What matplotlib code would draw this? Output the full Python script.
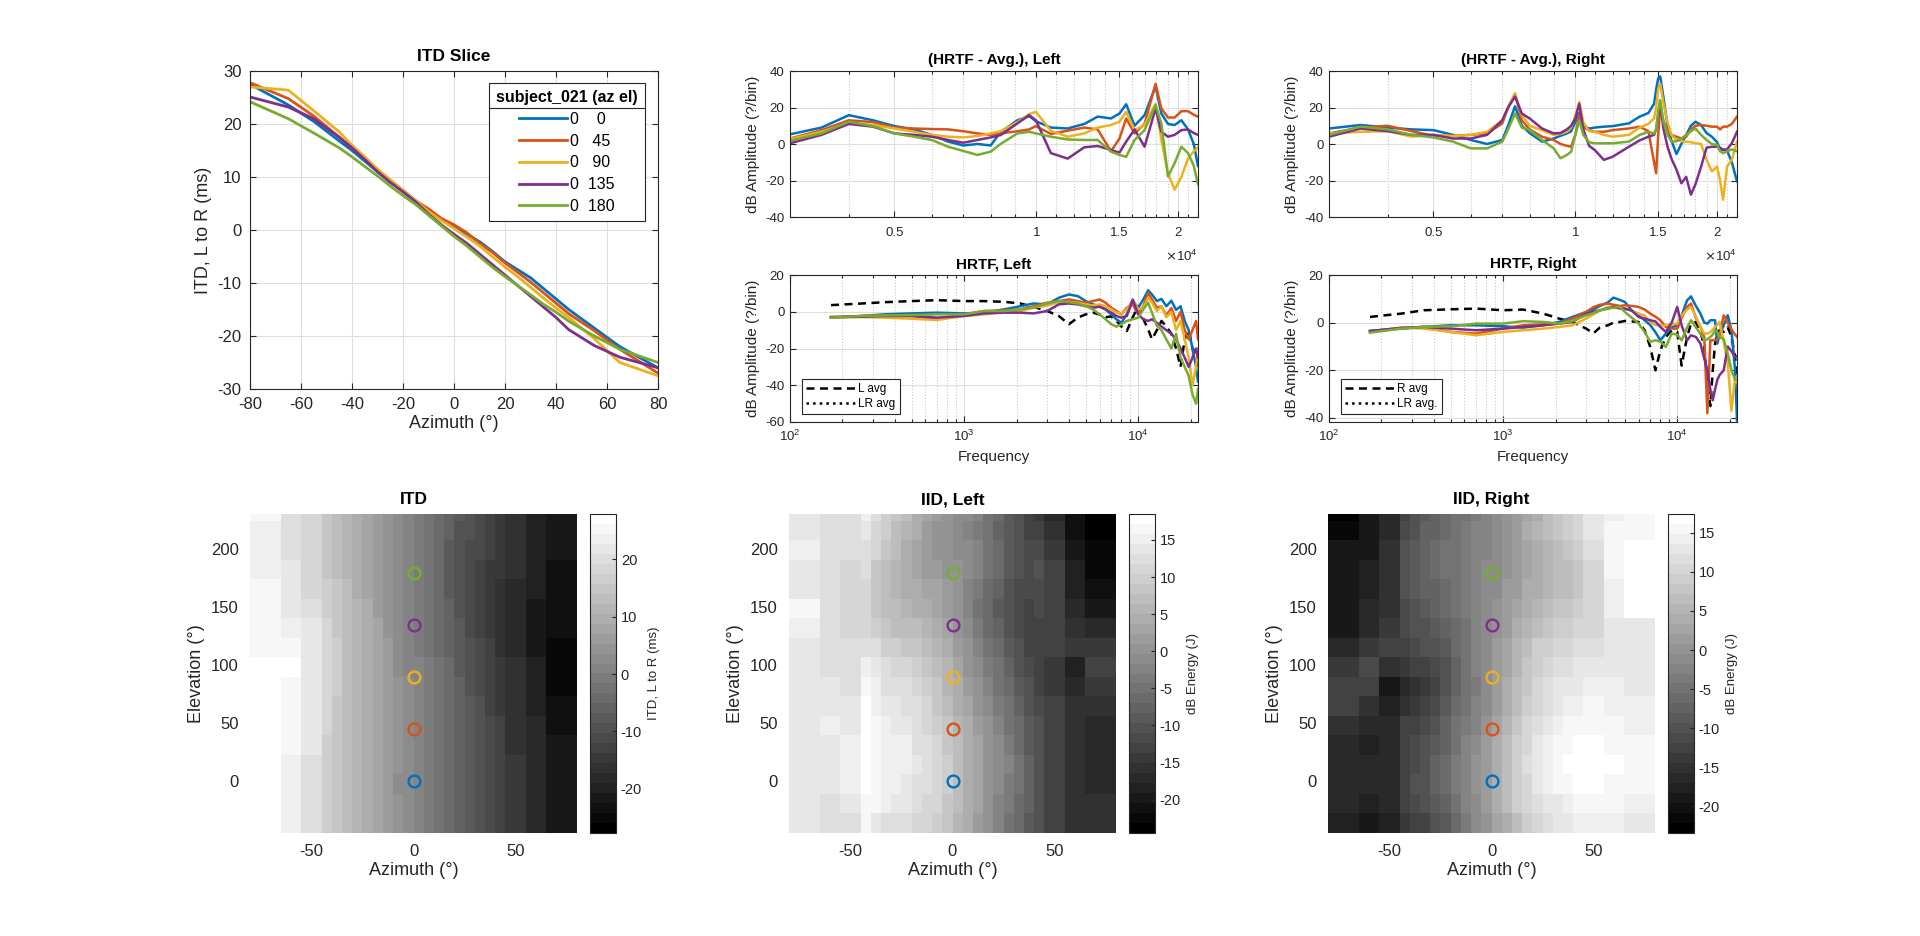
import numpy as np
import matplotlib
matplotlib.use("Agg")
import matplotlib.pyplot as plt
from matplotlib.colors import ListedColormap
from matplotlib.lines import Line2D
from matplotlib.ticker import FixedLocator, FixedFormatter, NullFormatter

plt.rcParams['font.family'] = ['Liberation Sans', 'DejaVu Sans']
plt.rcParams['axes.unicode_minus'] = False

# ---------------- data ----------------
elevations = [0, 45, 90, 135, 180]
legend_labels = ['0    0', '0   45', '0   90', '0  135', '0  180']

# ITD slice (azimuth vs ITD), one list per elevation
azimuths = [-80, -65, -55, -45, -40, -35, -30, -25, -20, -15, -10, -5, 0,
            5, 10, 15, 20, 25, 30, 35, 40, 45, 55, 65, 80]
itd_el0 = [27.5, 23.6, 20.5, 16.8, 15, 13, 11, 9, 7.5, 5.5, 3.5, 2, 0.8,
           -0.8, -2.2, -4, -6, -7.5, -9, -11, -13, -15, -18.5, -22, -26]
itd_el45 = [27.8, 24.8, 21.5, 17.5, 15.5, 13.5, 11.2, 9.2, 7.3, 5.5, 4, 2.2, 1.0,
            -0.5, -2.5, -4.2, -6.2, -8, -9.8, -11.8, -13.8, -15.8, -19, -22.5, -27]
itd_el90 = [27, 26.4, 22.5, 18.5, 16, 13.8, 11.5, 9.5, 7.5, 5.5, 3.5, 1.8, 0.3,
            -1.3, -3, -5, -7, -8.8, -10.8, -12.8, -14.7, -16.5, -20.5, -25, -27.5]
itd_el135 = [25.1, 23.2, 21, 17.5, 15.5, 13.3, 11, 9, 7.2, 5.3, 3, 1, -0.8,
             -2.5, -4.5, -6.5, -8.5, -10.5, -12.5, -14.5, -16.5, -18.8, -21.8, -24, -26]
itd_el180 = [24.2, 21, 18.3, 15.5, 13.8, 12, 10.2, 8.3, 6.5, 4.8, 2.8, 0.8, -1.2,
             -3, -5, -7, -8.8, -10.5, -12.2, -14, -15.5, -17.2, -20, -22.5, -25]

# (HRTF - Avg.), Left
freq_avg_left = [3000, 3500, 4000, 4500, 5000, 5500, 6000, 6500, 7000, 7500, 8000, 8400,
                 9120, 9660, 9980, 10740, 11660, 12650, 13500, 14410, 15020, 15520, 16170,
                 16980, 17920, 18430, 19040, 19670, 20330, 21000, 21600, 22050]
avgL_el0 = [5.3, 9, 15.8, 13, 9.8, 8, 5, 1.3, -0.8, 0, -0.8, 6.5, 13, 15.3, 12.5, 9,
            8.5, 11, 15, 14, 16.7, 21.8, 10, 15.8, 31.6, 16.7, 11, 10.4, 13, 8, 0, -12]
avgL_el45 = [3, 7.6, 13, 12, 9, 8.5, 8.2, 8, 7, 5.8, 5, 5.8, 7, 8, 9.8, 5.5, 7.3, 9,
             8, -4, 3, 14, 5.8, 11, 33, 19.5, 14.5, 14.5, 18, 18, 16, 15]
avgL_el90 = [2.7, 6.7, 11.6, 10.4, 8.5, 6.7, 5, 4, 3.6, 4.4, 5.8, 7, 12, 16.4, 17.6,
             7.3, 4, 5.8, 9, 10.4, 12.2, 17.6, 7.6, 10.4, 22, 2.2, -16, -25, -18, -8, -4, -2]
avgL_el135 = [0.4, 5, 11, 9.5, 5.8, 5, 4, 2.2, 0.7, 2.2, 3.6, 4.9, 11.3, 15.8, 13, -5,
              -8, -1.8, -1.1, -3.3, -4.7, 1.3, 8, -1.5, 19.5, 6.7, 4, 5, 7.6, 8, 6, 5]
avgL_el180 = [1.8, 5.8, 12.2, 9.8, 5.8, 4, 2.2, -1.5, -3.8, -6, -4.2, 0, 5.8, 6.7, 5.8,
              4, 2.5, 2.2, 2.2, -4.2, -6, -7, 2.2, 7.6, 21.3, 11.3, -17.8, -10.5, -1.5, -5, -12, -22]

# (HRTF - Avg.), Right
freq_avg_right = [3000, 3500, 4000, 4500, 5000, 5500, 6000, 6500, 7000, 7200, 7450, 7700,
                  8000, 8500, 9000, 9300, 9600, 9800, 10000, 10200, 10400, 10700, 11000,
                  11500, 12000, 13000, 13700, 14300, 14700, 14850, 15000, 15150, 15400,
                  15700, 16000, 16400, 16800, 17200, 17600, 18000, 18500, 19000, 19500,
                  20000, 20300, 20600, 21000, 21500, 22050]
avgR_el0 = [8.5, 10.4, 9, 8, 7.6, 5, 2.2, 0, 2.2, 10, 20.7, 10, 6, 1.3, 3, 4.5, 5.8, 7,
            12, 17, 10, 8.5, 9, 9.5, 9.8, 11.3, 15, 17, 22, 30, 36, 37, 25, 10, 2, -5.5,
            0, 5, 10, 12.2, 10.4, 6, 4, 1, -3, -3, -3.5, -10, -20.5]
avgR_el45 = [5.8, 9, 10, 7, 4.5, 4.5, 5, 5.8, 11.3, 20, 27.6, 13, 8, 4, 2.2, 0, -1, -1.5,
             5, 15.8, 9, 7.6, 6.7, 6.7, 7.6, 8.5, 9.5, 7, -10, -16, 5, 19.5, 12, 7.6, 5,
             4, 3, 4, 8, 10, 10.4, 10, 9.5, 9.5, 8, 9.5, 9.5, 11, 15]
avgR_el90 = [5.8, 6.7, 7, 4, 5, 4.4, 5, 6.7, 13, 20, 27.6, 15.8, 10, 7.6, 5, 5.5, 6.7,
             9, 15, 23, 12, 7, 6.7, 5, 4, 5, 9, 11, 14, 20, 30, 33, 22, 12, 5, 2.2, 1.5,
             1.3, 1, 0.4, 0, -8.7, -15, -12.4, -20, -30.5, -12.4, -8.7, 1.3]
avgR_el135 = [4, 8.5, 7, 5, 5, 3, 3, 5, 13, 20, 26, 16.7, 14, 8.5, 5.8, 6, 8, 10, 14,
              22, 8, -1, -3.3, -8.7, -7, -1.5, 2, 4, 5, 8, 16, 21.8, 8, -1.5, -8, -14,
              -21.5, -18, -27.8, -22, -12.4, -2, -1.5, -1.5, -2, -3.3, -3, 0.4, 6.7]
avgR_el180 = [5, 9.5, 8, 5, 3.6, 1.3, -2.4, -2.4, 1.3, 8, 16.7, 9, 7.6, 2.2, -2.4, -7.8,
              -6, -4.2, 5, 13, 5, 1, 0.4, 0.4, 0.4, 1.3, 5, 6.7, 5.8, 8, 18, 24, 12, 5,
              1.3, 1.5, 3, 5, 7, 8.5, 5, 2.2, 0, -0.5, -4, -5, -4, -3, -4]

# HRTF, Left
freq_left = [172, 260, 350, 500, 700, 1000, 1300, 1700, 2100, 2500, 3000, 3500, 4000,
             4500, 5000, 5500, 6000, 6500, 7000, 7500, 8000, 8600, 9300, 10000, 10700,
             11400, 12000, 12800, 13600, 14500, 15500, 16500, 17500, 18500, 19500,
             20500, 21500, 22050]
hL_el0 = [-3.2, -2.3, -1.4, -0.9, -0.5, -0.9, -0.5, 1.3, 3, 4.5, 4, 7.6, 9.4, 8.5, 5.8,
          4, 3, 1.3, -1.4, -4.1, -6, -1.4, 5.8, 2.2, 6.7, 11.7, 9.4, 5.8, 7, 3, 6, 1, 3,
          -5, -10, -20, -30, -38]
hL_el45 = [-2.9, -2.3, -2, -2.3, -3.8, -1.4, 0.4, 0.7, 1.3, 3, 4.9, 5.8, 6.7, 5.8, 4.9,
           5.8, 6.7, 4.9, 2.2, 0.4, -1.4, 2.2, 4, -1.4, 3, 10.3, 6.7, 2.2, 3, -2, 2, -5,
           0, -10, -15, -10, -5, -15]
hL_el90 = [-3.2, -2.9, -3.2, -3.8, -4.5, -2.3, -1.4, -0.2, 0.4, 2.2, 3.4, 5.2, 5.2, 4.9,
           4, 3.4, 4, 3, 1.3, -0.5, -0.9, 1.3, 6.3, 1.3, 2.2, 7.6, 4.9, 0.4, 3, -3, 0,
           -10, -5, -15, -25, -40, -30, -20]
hL_el135 = [-2.9, -2.7, -2.3, -2.3, -3.2, -2.3, -0.9, -0.5, -0.5, -0.9, 0.4, 4, 4.5, 4,
            3, 2.2, 2.7, 1.3, -0.5, -2.3, -3.2, -2.3, 6.7, -1.4, -4.1, -5, -4.1, -6, -8,
            -10, -12, -15, -20, -25, -30, -25, -20, -25]
hL_el180 = [-3.2, -2.3, -2, -1.8, -1.4, -1.4, 0.4, 0.4, 1.3, 2.2, 4.5, 5.8, 5.2, 4.5, 3,
            1.3, -1.4, -4.1, -6.8, -8.1, -6.8, -5, -4.1, -3.2, 1.3, 4.9, -0.5, -7.7, -10,
            -15, -20, -12, -25, -30, -35, -45, -50, -42]
hL_avg = [3.6, 4.5, 5.2, 5.8, 6.3, 5.8, 5.8, 5.4, 4.5, 2.7, 0.4, -2.3, -6.8, -3.2, -1.4,
          -0.5, -1.5, -3, -2.5, -5, -8, -10.5, -3, 3, -4, -9.5, -15, -10, -5, -8, -12,
          -20, -30, -15, -10, -20, -25, -30]

# HRTF, Right
freq_right = [172, 260, 350, 500, 700, 1000, 1300, 1700, 2100, 2500, 3000, 3300, 3600,
              4000, 4300, 4700, 5000, 5500, 6000, 6500, 7000, 7500, 8000, 8600, 9300,
              10000, 10600, 11400, 12000, 12800, 13600, 14300, 14900, 15500, 16000, 16500,
              17000, 17500, 18500, 19500, 20500, 21500, 22050]
hR_el0 = [-3.5, -2.5, -1.8, -1.1, -1.1, -1.5, -2.1, -1.1, 0.3, 2.4, 4.5, 5.5, 7, 8.5,
          10.5, 9.5, 8.7, 5, 3, 1, -1, -4, -7.4, -4.6, -2, -1.1, 3, 9.4, 11, 7, 3.8, 0,
          -0.4, 1, 1, 1, -8.8, -5, -1.1, 3.1, -3.2, -20, -41]
hR_el45 = [-3.6, -2.2, -1.8, -3.9, -4.6, -2.5, -1.1, -0.7, -0.4, 1.7, 4.5, 6.5, 7.5, 8,
           7.5, 7, 7.3, 7, 6.6, 5.5, 3.8, 2.5, 1, -1.8, -2.5, -2.5, 2, 6.6, 8, 2, -1.8,
           -6, -38, -7.4, -7.4, -7.4, -7, -5, 3.1, 0, -3, -5, -6]
hR_el90 = [-3.9, -2.1, -2.5, -3.9, -5.3, -3.9, -3.2, -2.5, -1.8, -1.1, 1.7, 3.5, 5, 6.6,
           6.3, 6, 5.9, 5, 3.8, 3, 0.3, -1, -1.1, -1.1, -0.7, -0.4, 3, 5.5, 6.6, 2.5, -2,
           -4.6, -4.6, -4, -3, -1.8, -1, 0.3, -8, -17, -37, -23, -25]
hR_el135 = [-3.5, -2.2, -1.8, -2.5, -3.2, -2.5, -1.8, -1.1, -0.4, 0.3, 3.8, 4.5, 5.2, 6,
            6.6, 6, 5.9, 5, 2.4, 1.7, 1, 0.5, -1.8, -3.9, 0, 6.6, -1.1, -7.4, -5.3, -6,
            -8.8, -15, -20, -28, -32.6, -28, -24, -22, -20, -10, -12, -14.4, -14]
hR_el180 = [-4.2, -2.5, -1.8, -1.5, -0.4, -0.4, 0.6, 0.3, -0.4, 0.7, 3.1, 4, 5.2, 5.9,
            6.3, 6.6, 4.5, 2, -0.4, -3.9, -8.1, -7.4, -8, -10.2, -4.6, -5, -7.4, -2, 1,
            -2, -4.6, -7.4, -7, -6, -5, -3.2, -4, -6, -7, -13, -20, -24, -24]
hR_avg = [2.4, 3.8, 5.2, 5.6, 5.9, 5.2, 5.5, 3.8, 1.7, 0.3, -2.5, -4.5, -2, -1.1, 0, 0.3,
          0.7, 0.5, 0.3, -3.2, -10.2, -20, -11.6, -6, -3.2, -3.9, -18, -6, -0.4, 0.3,
          -3.9, -10, -25, -35, -20, -8.8, -4, -3.2, -3.9, -1.8, -6, -14.4, -22.8]

# heat maps: cell edges (azimuth vertices, elevation bands) and cell values
az_edges = [-80, -65, -55, -45, -40, -35, -30, -25, -20, -15, -10, -5, 0, 5, 10, 15,
            20, 25, 30, 35, 40, 45, 55, 65, 80]
el_edges = [-45, -28.125, -11.25, 5.625, 22.5, 39.375, 56.25, 73.125, 90, 106.875,
            123.75, 140.625, 157.5, 174.375, 191.25, 208.125, 225, 230.625]

itd_map = [
    [27.6, 23.8, 20.8, 17, 15.2, 13.3, 11.3, 9.3, 7.5, 5.6, 4, 2.5, 0.8, -1, -2.6, -4.3, -6.2, -7.8, -9.5, -11.2, -13.2, -15.5, -19, -22],
    [27.6, 23.8, 20.8, 17, 15, 13.2, 11.2, 9.2, 7.5, 5.6, 3.8, 2.2, 0.8, -1, -2.5, -4.2, -6.2, -7.8, -9.5, -11.2, -13.2, -15.3, -18.8, -22],
    [27.5, 23.6, 20.5, 16.8, 15, 13, 11, 9, 7.5, 5.5, 3.5, 2, 0.8, -0.8, -2.2, -4, -6, -7.5, -9, -11, -13, -15, -18.5, -22],
    [27.6, 24, 20.8, 17, 15.2, 13.2, 11.1, 9.1, 7.4, 5.5, 3.7, 2.1, 0.9, -0.7, -2.3, -4.1, -6.1, -7.7, -9.4, -11.4, -13.4, -15.4, -18.7, -22.2],
    [27.7, 24.5, 21.2, 17.3, 15.4, 13.4, 11.2, 9.2, 7.3, 5.5, 3.9, 2.2, 1, -0.6, -2.4, -4.2, -6.2, -7.9, -9.7, -11.6, -13.6, -15.6, -18.9, -22.4],
    [27.8, 24.8, 21.5, 17.5, 15.5, 13.5, 11.2, 9.2, 7.3, 5.5, 4, 2.2, 1.0, -0.5, -2.5, -4.2, -6.2, -8, -9.8, -11.8, -13.8, -15.8, -19, -22.5],
    [27.6, 25.3, 21.8, 17.8, 15.7, 13.6, 11.3, 9.3, 7.4, 5.5, 3.8, 2, 0.7, -0.8, -2.7, -4.5, -6.5, -8.3, -10.2, -12.2, -14.2, -16.1, -19.5, -23.5],
    [27.3, 25.9, 22.2, 18.2, 15.9, 13.7, 11.4, 9.4, 7.5, 5.5, 3.6, 1.9, 0.5, -1, -2.9, -4.8, -6.8, -8.6, -10.5, -12.5, -14.5, -16.3, -20, -24.3],
    [27, 26.4, 22.5, 18.5, 16, 13.8, 11.5, 9.5, 7.5, 5.5, 3.5, 1.8, 0.3, -1.3, -3, -5, -7, -8.8, -10.8, -12.8, -14.7, -16.5, -20.5, -25],
    [26, 24.8, 21.8, 18, 15.8, 13.6, 11.3, 9.3, 7.4, 5.4, 3.3, 1.4, -0.2, -1.9, -3.8, -5.8, -7.8, -9.7, -11.7, -13.7, -15.7, -17.7, -21.2, -24.5],
    [25.1, 23.2, 21, 17.5, 15.5, 13.3, 11, 9, 7.2, 5.3, 3, 1, -0.8, -2.5, -4.5, -6.5, -8.5, -10.5, -12.5, -14.5, -16.5, -18.8, -21.8, -24],
    [24.8, 22.5, 20, 16.8, 14.9, 12.9, 10.7, 8.8, 7, 5.1, 2.9, 0.9, -1, -2.8, -4.8, -6.8, -8.7, -10.5, -12.3, -14.2, -16.1, -18.1, -21, -23.5],
    [24.5, 21.8, 19.2, 16.2, 14.4, 12.5, 10.5, 8.6, 6.8, 5, 2.9, 0.9, -1.1, -2.9, -4.9, -6.9, -8.8, -10.5, -12.2, -14.1, -15.8, -17.6, -20.5, -23],
    [24.2, 21, 18.3, 15.5, 13.8, 12, 10.2, 8.3, 6.5, 4.8, 2.8, 0.8, -1.2, -3, -5, -7, -8.8, -10.5, -12.2, -14, -15.5, -17.2, -20, -22.5],
    [24, 20.5, 18, 15.3, 13.6, 11.8, 10, 8.2, 6.4, 4.7, 2.8, 0.8, -1.2, -3, -5, -6.9, -8.7, -10.4, -12, -13.8, -15.3, -17, -19.8, -22.3],
    [23.5, 20.3, 17.8, 15.2, 13.5, 11.7, 9.9, 8.1, 6.3, 4.6, 2.7, 0.8, -1.1, -2.9, -4.9, -6.8, -8.6, -10.3, -11.9, -13.6, -15.2, -16.9, -19.6, -22],
    [25, 20.5, 18, 15.3, 13.6, 11.8, 10, 8.2, 6.4, 4.7, 2.8, 0.9, -1, -2.8, -4.8, -6.7, -8.5, -10.2, -11.8, -13.5, -15.1, -16.8, -19.5, -21.8],
]

iid_left_map = [
    [14, 12, 12, 16, 14, 13, 13, 12.5, 11.5, 10.5, 10, 8, 6, 4, 2, 0, -2.5, -4.5, -6.5, -8.5, -10.5, -13, -16, -16],
    [14, 13, 13.5, 17, 16, 14.5, 14, 13.5, 12.5, 11.5, 10.5, 8.5, 6.5, 4.5, 2.5, 0.5, -2, -4, -6, -8, -10, -12.5, -15.5, -16],
    [14, 14, 15.5, 18.5, 16.5, 15, 14.5, 14, 13, 12, 11.5, 9.5, 7, 5, 3, 1, -1.5, -3.5, -5.5, -8, -10, -12.5, -15.5, -16.5],
    [14, 14, 15, 18.5, 16.5, 15.5, 15.5, 15, 13.5, 12.5, 11.5, 9.5, 7, 5, 3, 1, -1, -3, -5.5, -8, -10, -12.5, -15.5, -16.5],
    [14, 14, 14.5, 18.5, 16, 15, 15, 14.5, 13, 12, 11, 9, 6.5, 4.5, 2.5, 0.5, -1.5, -3.5, -6, -8.5, -10.5, -13, -16, -16.5],
    [14, 14.5, 14, 18, 16, 14.5, 14, 13.5, 12.5, 11, 10, 8, 6, 4, 2, 0, -2, -4.5, -6.5, -9, -11, -13, -15.5, -16.5],
    [14, 14, 13.5, 17.5, 15, 14, 13.5, 13, 12, 10.5, 9, 7, 5, 3, 1, -1.5, -3.5, -5.5, -8, -10, -12, -13.5, -15.5, -16],
    [14, 13.5, 13, 16.5, 14.5, 13, 12.5, 12, 11, 9.5, 8, 6, 4, 2, 0, -2.5, -4.5, -7, -9, -11, -13, -14, -16.5, -14.5],
    [14, 13, 12.5, 15, 13.5, 12, 11.5, 11, 10, 8.5, 7, 5.5, 3, 1, -1, -3.5, -5.5, -8, -10, -12, -13.5, -15, -18, -13],
    [14, 12.5, 12, 13, 12, 10, 9.5, 9, 8, 7, 6, 4.5, 2, 0, -2, -4.5, -6.5, -9, -11, -12.5, -13, -13.5, -14, -14.5],
    [14.5, 12, 11, 11.5, 10, 8, 7.5, 7, 6.5, 5.5, 4.5, 3, 1, -1.5, -3.5, -6, -8, -10, -12, -13, -12.5, -12.5, -16, -17],
    [16.5, 12.5, 10.5, 11, 9, 7, 6.5, 6, 5, 4.5, 3.5, 2, 0, -2.5, -4.5, -6.5, -8.5, -10.5, -12, -12.5, -12, -12.5, -17, -20],
    [14, 13, 11, 11.5, 8.5, 7, 6, 5, 4, 3.5, 2.5, 1.5, 0, -2, -4, -6, -8, -10, -11.5, -12, -11.5, -13, -18, -21],
    [14, 13, 11.5, 12, 9, 7.5, 6, 4.5, 3, 2, 1.5, 1, 0, -1.5, -3, -5, -7, -9, -10.5, -11.5, -11, -13, -19, -22],
    [14.5, 13, 12, 13, 10.5, 8.5, 7, 5, 3, 1.5, 0.5, 0, -0.5, -1.5, -3, -5, -7, -9, -10.5, -11.5, -12, -14, -20, -22.5],
    [14, 13, 12.5, 14, 11.5, 9.5, 7.5, 6, 4, 2, 1, 0, -1, -2, -3.5, -5.5, -7.5, -9.5, -11, -12.5, -13, -15.5, -21, -23.5],
    [13.5, 13, 13, 15.5, 12, 10, 8, 6.5, 4.5, 3, 2, 1, -0.5, -1.5, -3, -5, -7, -9, -11, -13, -14, -17, -21.5, -24.5],
]

iid_right_map = [
    [-18, -19, -18, -14, -13, -12, -10, -9, -6, -4, -1.5, 0.5, 2.5, 4.5, 7, 9, 11, 12, 12.5, 13, 14, 14.5, 14, 13],
    [-17, -17.5, -17, -12.5, -11.5, -10, -8.5, -7, -4.5, -2.5, -0.5, 1.5, 3.5, 6, 8.5, 10.5, 12, 13, 13.5, 14.5, 15.5, 16, 15, 14],
    [-16.5, -17, -17, -12, -10.5, -9.5, -8, -6.5, -4, -2, 0, 2, 4.5, 7, 9.5, 11, 13, 14.5, 15, 15.5, 17, 17, 15.5, 15],
    [-16, -16.5, -16, -12, -11, -9.5, -8, -6.5, -4, -2, 0, 2, 4.5, 7, 9.5, 11.5, 13.5, 14.5, 15.5, 16.5, 17.4, 17.4, 16.5, 15],
    [-16, -17.5, -16.5, -12.5, -11.5, -10, -8.5, -7, -4.5, -3, -1, 1, 3.5, 6, 9, 11, 13, 14, 15, 16, 17, 17, 16, 15],
    [-14.5, -17, -16, -13, -12, -11, -9.5, -8, -5.5, -4, -2, 0, 2.5, 5, 7.5, 10, 12, 13, 14, 15, 16, 15.5, 15, 14.5],
    [-13, -15, -17.5, -15, -14, -13, -11, -9, -6.5, -5, -3, -1, 1.5, 4, 6.5, 9, 11, 12, 13, 14, 14.5, 15, 14.5, 14],
    [-12.5, -12, -19, -16.5, -15.5, -14, -12, -10, -7.5, -5.5, -3.5, -1.5, 1, 3.5, 6, 8, 10, 11.5, 12.5, 13, 13.5, 14, 14, 13.5],
    [-13.5, -11, -14.5, -14, -13, -12, -11, -9.5, -7.5, -5.5, -3, -1, 1, 3, 5.5, 7.5, 9.5, 10.5, 11.5, 12, 12.5, 13, 13.5, 13.5],
    [-17, -14, -12.5, -12.5, -11.5, -10.5, -9.5, -8.5, -6.5, -5, -3, -1, 1, 3, 5, 7, 8.5, 9.5, 10.5, 11, 11.5, 12, 12.5, 13],
    [-18.5, -16, -13.5, -11.5, -10.5, -9.5, -8.5, -7.5, -6, -4.5, -3, -1, 0.5, 2, 4, 5.5, 7, 8, 9, 9.5, 10, 11, 13.5, 13.5],
    [-18.5, -17, -14.5, -11, -9.5, -8.5, -7.5, -6.5, -5.5, -4, -2.5, -1, 0, 1.5, 3, 4.5, 5.5, 6.5, 7.5, 8, 9, 10.5, 14, 16.5],
    [-18.5, -17.5, -15, -10.5, -9, -8, -7, -6, -5, -3.5, -2.5, -1.5, -0.5, 1, 2, 3.5, 4.5, 5.5, 6.5, 7, 8, 10.5, 14.5, 17],
    [-18.5, -18, -15, -10, -8.5, -7.5, -6.5, -5.5, -4.5, -3.5, -2.5, -1.5, -1, 0, 1, 2.5, 4, 5, 6, 7, 8, 11, 15, 17],
    [-19, -18.5, -15.5, -10.5, -9, -7.5, -6.5, -5.5, -5, -4, -3, -2, -1, 0, 1.5, 3, 4.5, 5.5, 6.5, 7.5, 9, 12, 15.5, 16.5],
    [-21.5, -19, -16, -11.5, -9.5, -8, -7, -6, -5, -4, -3, -2, -1, 0.5, 2, 3.5, 5, 6.5, 8, 9, 10.5, 13, 15, 15.5],
    [-23, -19.5, -16.5, -12, -10, -8.5, -7.5, -6.5, -5.5, -4.5, -3.5, -2.5, -1.5, 0, 1.5, 3, 4.5, 6, 7.5, 9, 10.5, 13, 14.5, 15],
]

itd_clim = (-27.7, 27.9)
iid_left_clim = (-24.5, 18.5)
iid_right_clim = (-23.4, 17.4)

# ---------------- style ----------------
colors = ['#0072BD', '#D95319', '#EDB120', '#7E2F8E', '#77AC30']
DARK = '#262626'
GRID = '#dedede'
MINOR = '#c8c8c8'
W, H = 1920, 936


def box(l, t, r, b):
    return [l / W, 1 - b / H, (r - l) / W, (b - t) / H]


def style(ax, fs, pad=4):
    for s in ax.spines.values():
        s.set_color(DARK)
        s.set_linewidth(0.8)
    ax.tick_params(which='both', direction='in', colors=DARK, labelsize=fs,
                   top=True, right=True, width=0.8, pad=pad)
    ax.tick_params(which='major', length=4)
    ax.tick_params(which='minor', length=2)


fig = plt.figure(figsize=(19.2, 9.36), dpi=100)

# ---------- ITD slice ----------
ax = fig.add_axes(box(250, 71, 658, 389))
itd_lines = [itd_el0, itd_el45, itd_el90, itd_el135, itd_el180]
handles = []
for vals, c in zip(itd_lines, colors):
    h, = ax.plot(azimuths, vals, color=c, lw=2.0)
    handles.append(h)
ax.set_xlim(-80, 80)
ax.set_ylim(-30, 30)
ax.set_xticks(range(-80, 81, 20))
ax.set_yticks(range(-30, 31, 10))
ax.grid(True, color=GRID, lw=0.8)
ax.set_axisbelow(True)
style(ax, 12, pad=6)
ax.set_xlabel('Azimuth (\u00b0)', fontsize=13, color=DARK, labelpad=2)
ax.set_ylabel('ITD, L to R (ms)', fontsize=13, color=DARK)
ax.set_title('ITD Slice', fontsize=12.5, fontweight='bold', pad=7)
leg = ax.legend(handles, legend_labels, title='subject_021 (az el)', loc='upper right',
                bbox_to_anchor=(0.968, 0.962), borderaxespad=0, fontsize=11.5,
                title_fontproperties={'weight': 'bold', 'size': 11.5},
                fancybox=False, edgecolor=DARK, framealpha=1, handlelength=3.0,
                handletextpad=0.2, labelspacing=0.42, borderpad=0.45)
leg.get_frame().set_linewidth(0.8)


# ---------- HRTF - Avg panels ----------
def avg_panel(pos, freqs, curves, title):
    ax = fig.add_axes(box(*pos))
    for vals, c in zip(curves, colors):
        ax.plot(freqs, vals, color=c, lw=1.8)
    ax.set_xscale('log')
    ax.set_xlim(3000, 22050)
    ax.set_ylim(-40, 40)
    ax.set_yticks([-40, -20, 0, 20, 40])
    ax.xaxis.set_major_locator(FixedLocator([5000, 10000, 15000, 20000]))
    ax.xaxis.set_major_formatter(FixedFormatter(['0.5', '1', '1.5', '2']))
    minors = [f for f in range(4000, 22001, 1000) if f not in (5000, 10000, 15000, 20000)]
    ax.xaxis.set_minor_locator(FixedLocator(minors))
    ax.xaxis.set_minor_formatter(NullFormatter())
    ax.grid(True, which='major', color=GRID, lw=0.8)
    ax.grid(True, which='minor', axis='x', color=MINOR, lw=0.8, ls=':')
    ax.set_axisbelow(True)
    style(ax, 9.5)
    ax.tick_params(axis='x', pad=7)
    ax.set_ylabel('dB Amplitude (?/bin)', fontsize=11, color=DARK)
    ax.set_title(title, fontsize=11, fontweight='bold', pad=5)
    ax.text(1.0, -0.27, r'$\times\mathregular{10^{4}}$', transform=ax.transAxes,
            ha='right', va='center', fontsize=9.5, color=DARK)
    return ax


avg_panel((790, 71, 1198, 217), freq_avg_left,
          [avgL_el0, avgL_el45, avgL_el90, avgL_el135, avgL_el180], '(HRTF - Avg.), Left')
avg_panel((1329, 71, 1737, 217), freq_avg_right,
          [avgR_el0, avgR_el45, avgR_el90, avgR_el135, avgR_el180], '(HRTF - Avg.), Right')


# ---------- HRTF panels ----------
def hrtf_panel(pos, freqs, curves, avg, title, ylim, yticks, avg_label, lr_label):
    ax = fig.add_axes(box(*pos))
    ax.plot(freqs, avg, color='k', lw=1.8, ls=(0, (3.2, 2.2)))
    for vals, c in zip(curves, colors):
        ax.plot(freqs, vals, color=c, lw=1.8)
    ax.set_xscale('log')
    ax.set_xlim(100, 22050)
    ax.set_ylim(*ylim)
    ax.set_yticks(yticks)
    ax.grid(True, which='major', color=GRID, lw=0.8)
    ax.grid(True, which='minor', axis='x', color=MINOR, lw=0.8, ls=':')
    ax.set_axisbelow(True)
    style(ax, 9.5)
    ax.tick_params(axis='x', pad=5)
    ax.set_xlabel('Frequency', fontsize=11, color=DARK)
    ax.set_ylabel('dB Amplitude (?/bin)', fontsize=11, color=DARK)
    ax.set_title(title, fontsize=11, fontweight='bold', pad=5)
    proxies = [Line2D([], [], color='k', lw=1.8, ls=(0, (3.2, 2.2))),
               Line2D([], [], color='k', lw=1.8, ls=':')]
    lg = ax.legend(proxies, [avg_label, lr_label], loc='lower left',
                   bbox_to_anchor=(0.03, 0.055), borderaxespad=0, fontsize=8.5,
                   fancybox=False, edgecolor=DARK, framealpha=1, handlelength=4.2,
                   handletextpad=0.2, labelspacing=0.25, borderpad=0.35)
    lg.get_frame().set_linewidth(0.8)
    return ax


hrtf_panel((790, 275, 1198, 422), freq_left,
           [hL_el0, hL_el45, hL_el90, hL_el135, hL_el180], hL_avg, 'HRTF, Left',
           (-60, 20), [-60, -40, -20, 0, 20], 'L avg', 'LR avg')
hrtf_panel((1329, 275, 1737, 422), freq_right,
           [hR_el0, hR_el45, hR_el90, hR_el135, hR_el180], hR_avg, 'HRTF, Right',
           (-41.7, 20), [-40, -20, 0, 20], 'R avg', 'LR avg.')

# ---------- heat maps ----------
gray32 = ListedColormap(plt.cm.gray(np.linspace(0, 1, 32)))


def heat_panel(pos, cpos, data, clim, title, cticks, clabel):
    ax = fig.add_axes(box(*pos))
    mesh = ax.pcolormesh(az_edges, el_edges, np.array(data), cmap=gray32,
                         vmin=clim[0], vmax=clim[1], shading='flat')
    for el, c in zip(elevations, colors):
        ax.plot(0, el, 'o', mfc='none', mec=c, ms=8.5, mew=1.7)
    ax.set_xlim(-80, 80)
    ax.set_ylim(-45, 230.625)
    ax.set_xticks([-50, 0, 50])
    ax.set_yticks([0, 50, 100, 150, 200])
    for s in ax.spines.values():
        s.set_visible(False)
    ax.tick_params(length=0, labelsize=12, colors=DARK, pad=8)
    ax.set_xlabel('Azimuth (\u00b0)', fontsize=13, color=DARK, labelpad=2)
    ax.set_ylabel('Elevation (\u00b0)', fontsize=13, color=DARK)
    ax.set_title(title, fontsize=12.5, fontweight='bold', pad=7)
    cax = fig.add_axes(box(*cpos))
    cb = fig.colorbar(mesh, cax=cax)
    cb.set_ticks(cticks)
    cb.outline.set_edgecolor(DARK)
    cb.outline.set_linewidth(0.8)
    cax.tick_params(direction='in', length=3, labelsize=10.5, colors=DARK, width=0.8)
    cb.set_label(clabel, fontsize=9.5, color=DARK)
    return ax


heat_panel((250, 514, 577, 833), (590, 514, 616, 833), itd_map, itd_clim, 'ITD',
           [-20, -10, 0, 10, 20], 'ITD, L to R (ms)')
heat_panel((789, 514, 1116, 833), (1129, 514, 1155, 833), iid_left_map, iid_left_clim,
           'IID, Left', [-20, -15, -10, -5, 0, 5, 10, 15], 'dB Energy (J)')
heat_panel((1328, 514, 1655, 833), (1668, 514, 1694, 833), iid_right_map, iid_right_clim,
           'IID, Right', [-20, -15, -10, -5, 0, 5, 10, 15], 'dB Energy (J)')

# separator under the legend title (as MATLAB draws it)
fig.canvas.draw()
fr = leg.get_frame().get_window_extent()
tt = leg.get_title().get_window_extent()
inv = fig.transFigure.inverted()
(x0, y0), (x1, _) = inv.transform([(fr.x0, tt.y0 - 3), (fr.x1, tt.y0 - 3)])
fig.add_artist(Line2D([x0, x1], [y0, y0], transform=fig.transFigure, color=DARK, lw=0.8))

fig.savefig('out.png', dpi=100, facecolor='white')
